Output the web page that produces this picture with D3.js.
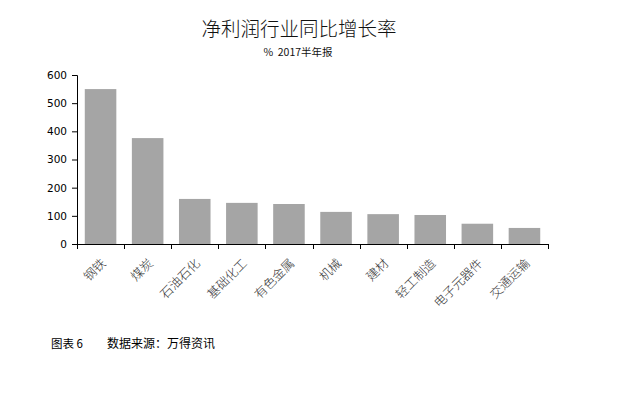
<!DOCTYPE html>
<html>
<head>
<meta charset="utf-8">
<script src="https://cdn.jsdelivr.net/npm/d3@7"></script>
<style>
  html, body { margin: 0; padding: 0; background: #fff; }
  svg { display: block; }
</style>
</head>
<body>
<svg id="chart" width="617" height="393"></svg>
<script>
// Net profit year-on-year growth by industry, 2017 half-year report (%)
const industries = ["钢铁", "煤炭", "石油石化", "基础化工", "有色金属", "机械", "建材", "轻工制造", "电子元器件", "交通运输"];
const growth = [550, 376, 160, 146, 142, 114, 106, 103, 72, 57];
const yTicks = [0, 100, 200, 300, 400, 500, 600];

const titleText = "净利润行业同比增长率";
const subtitleText = "%  2017半年报";
const figureLabel = "图表 6";
const sourceLabel = "数据来源：万得资讯";

const svg = d3.select("#chart");
const cjk = "'Noto Sans CJK SC', 'Noto Sans', sans-serif";

const plot = { left: 77, right: 548, top: 75, bottom: 244 };

const x = d3.scaleBand()
  .domain(industries)
  .range([plot.left, plot.right])
  .paddingInner(0.33)
  .paddingOuter(0.165);

const y = d3.scaleLinear()
  .domain([0, 600])
  .range([plot.bottom, plot.top]);

// bars
svg.append("g")
  .selectAll("rect")
  .data(industries)
  .join("rect")
  .attr("x", d => x(d))
  .attr("width", x.bandwidth())
  .attr("y", (d, i) => y(growth[i]))
  .attr("height", (d, i) => y(0) - y(growth[i]))
  .attr("fill", "#a5a5a5");

// y axis
const yAxis = svg.append("g")
  .attr("transform", `translate(${plot.left},0)`)
  .call(d3.axisLeft(y).tickValues(yTicks).tickSize(5).tickPadding(5));
yAxis.select(".domain").attr("stroke", "#000").attr("stroke-width", 1);
yAxis.selectAll(".tick line").attr("stroke", "#000");
yAxis.selectAll("text")
  .attr("font-family", "'DejaVu Sans', Verdana, sans-serif")
  .attr("font-size", "10.5px")
  .attr("fill", "#000");

// x axis: ticks sit on band boundaries
const step = x.step();
const boundaries = d3.range(industries.length + 1).map(i => plot.left + i * step);
const xAxis = svg.append("g");
xAxis.append("line")
  .attr("x1", plot.left).attr("x2", plot.right)
  .attr("y1", plot.bottom + 0.5).attr("y2", plot.bottom + 0.5)
  .attr("stroke", "#000");
xAxis.selectAll("line.tick")
  .data(boundaries)
  .join("line")
  .attr("class", "tick")
  .attr("x1", d => Math.round(d) + 0.5).attr("x2", d => Math.round(d) + 0.5)
  .attr("y1", plot.bottom).attr("y2", plot.bottom + 5)
  .attr("stroke", "#000");

// rotated category labels
xAxis.selectAll("text")
  .data(industries)
  .join("text")
  .attr("transform", d => `translate(${x(d) + x.bandwidth() / 2 + 3},${plot.bottom + 17}) rotate(-45)`)
  .attr("text-anchor", "end")
  .attr("dy", "0.35em")
  .attr("font-family", cjk)
  .attr("font-size", "12.5px")
  .attr("font-weight", 300)
  .attr("fill", "#333")
  .text(d => d);

// titles
svg.append("text")
  .attr("x", 299).attr("y", 36)
  .attr("text-anchor", "middle")
  .attr("font-family", cjk)
  .attr("font-size", "19.5px")
  .attr("font-weight", 300)
  .attr("fill", "#111")
  .text(titleText);

svg.append("text")
  .attr("x", 298).attr("y", 56)
  .attr("text-anchor", "middle")
  .attr("font-family", cjk)
  .attr("font-size", "10.5px")
  .attr("fill", "#111")
  .style("white-space", "pre")
  .text(subtitleText);

// footer
svg.append("text")
  .attr("x", 51).attr("y", 348)
  .attr("font-family", cjk)
  .attr("font-size", "11.5px")
  .attr("fill", "#000")
  .text(figureLabel);

svg.append("text")
  .attr("x", 107).attr("y", 348)
  .attr("font-family", cjk)
  .attr("font-size", "12px")
  .attr("fill", "#000")
  .text(sourceLabel);
</script>
</body>
</html>
